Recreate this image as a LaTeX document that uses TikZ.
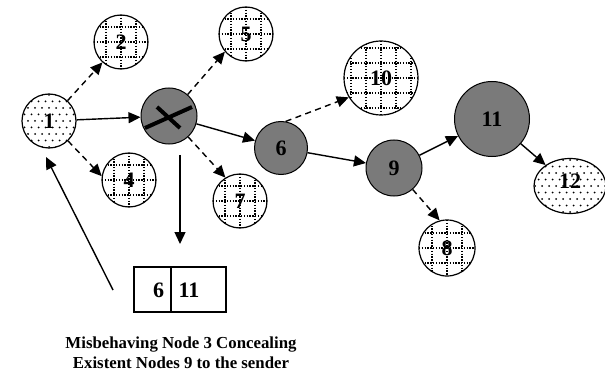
\documentclass[tikz,border=0pt]{standalone}
\usepackage{fontspec}
\setmainfont{Liberation Serif}
\usetikzlibrary{arrows.meta,shapes.geometric}
\begin{document}
\begin{tikzpicture}[x=1pt,y=-1pt,
  every node/.style={font=\bfseries\fontsize{22}{24}\selectfont},
  gridline/.style={draw=black, line width=1.3pt, dash pattern=on 1.3pt off 1.5pt},
  peer/.style={circle, draw, line width=1.2pt, inner sep=0pt},
  gridpeer/.style={peer, fill=white, path picture={
      \foreach \k in {-3,...,3}{
        \draw[gridline] ([xshift=\k*15pt]path picture bounding box.north) -- ([xshift=\k*15pt]path picture bounding box.south);
        \draw[gridline] ([yshift=\k*15pt]path picture bounding box.west) -- ([yshift=\k*15pt]path picture bounding box.east);
      }}},
  dotpeer/.style={peer, fill=white, path picture={
      \foreach \i in {-7,...,7}{
        \foreach \j in {-6,-4,...,6}{
          \fill[black] ([shift={(\i*7,\j*6.5)}]path picture bounding box.center) circle (1);
          \fill[black] ([shift={(\i*7+3.5,\j*6.5+6.5)}]path picture bounding box.center) circle (1);
        }}}},
  darkpeer/.style={peer, fill=black!52, line width=1pt},
  link/.style={line width=1.4pt, -{Triangle[length=12pt,width=11pt]}},
  probe/.style={link, dash pattern=on 6pt off 4.5pt},
  cell/.style={draw, line width=1.3pt, minimum height=45pt, inner sep=0pt}
]
\useasboundingbox (0,0) rectangle (605,377);

% sender, neighbours and route
\node[dotpeer, minimum size=54pt] (n1) at (49,121) {1};
\node[gridpeer, minimum size=54pt] (n2) at (121,42) {2};
\node[darkpeer, minimum size=56pt] (n3) at (169,116) {};
\node[gridpeer, minimum size=54pt] (n4) at (129,180) {4};
\node[gridpeer, minimum size=54pt] (n5) at (246,34) {5};
\node[gridpeer, minimum size=54pt] (n7) at (240,201) {7};
\node[darkpeer, minimum size=53pt] (n6) at (281,148) {6};
\node[gridpeer, minimum size=74pt] (n10) at (381,78) {10};
\node[darkpeer, minimum size=56pt] (n9) at (394,168) {9};
\node[darkpeer, minimum size=75pt] (n11) at (492,119) {11};
\node[gridpeer, minimum size=56pt] (n8) at (447,248) {8};
\node[dotpeer, ellipse, minimum width=72pt, minimum height=55pt] (n12) at (570,186) {};
\node (l12) at (570,181) {12};

% cross over the misbehaving node
\draw[line width=4pt] (145,128) -- (192,107);
\draw[line width=4pt] (157,107) -- (180,128);

% forwarded and broadcast links
\draw[link] (n1) -- (n3);
\draw[probe] (n1) -- (n2);
\draw[probe] (n1) -- (n4.172);
\draw[probe] (n3) -- (n5.220);
\draw[probe] (n3) -- (n7.122);
\draw[link] (n3) -- (n6);
\draw[probe] (n6.80) -- (n10.211);
\draw[link] (n6) -- (n9);
\draw[link] (n9) -- (n11);
\draw[probe] (n9) -- (n8.105);
\draw[link] (n11) -- (n12);

% reply list sent back by node 3
\node[cell, minimum width=37pt] (c1) at (152.5,289.5) {};
\node[cell, minimum width=55pt] (c2) at (198.5,289.5) {};
\node (t6) at (158.5,290) {6};
\node (t11) at (189,290) {11};

\coordinate (down0) at (180,155);
\coordinate (down1) at (180,244);
\draw[link] (down0) -- (down1);
\coordinate (back0) at (113,290);
\coordinate (back1) at (46,157);
\draw[link] (back0) -- (back1);

\node[align=center, font=\bfseries\fontsize{16.8}{20.5}\selectfont] (cap) at (181,353)
  {Misbehaving Node 3 Concealing\\Existent Nodes 9 to the sender};
\end{tikzpicture}
\end{document}
